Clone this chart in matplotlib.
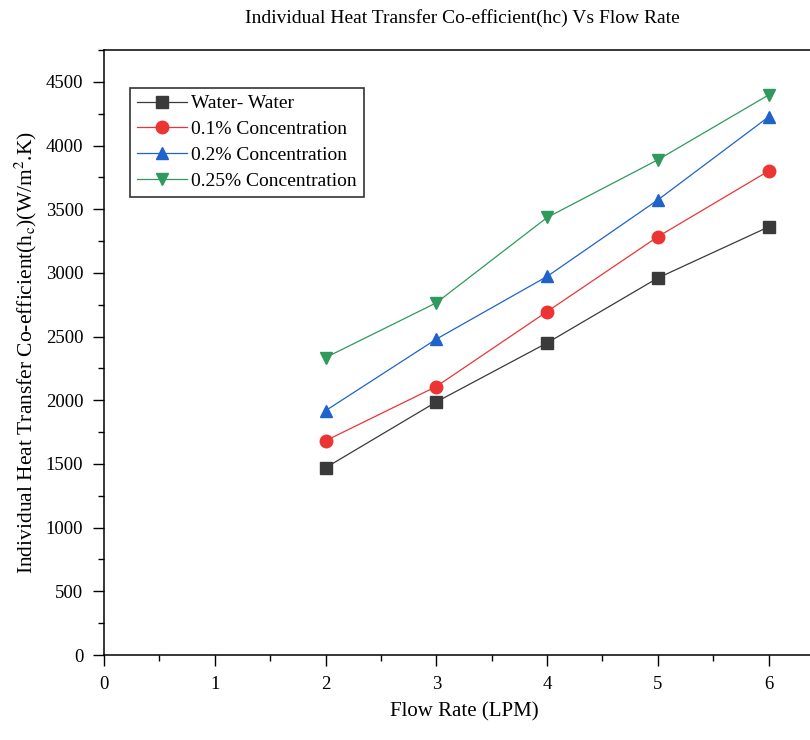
import matplotlib
matplotlib.use("Agg")
import matplotlib.pyplot as plt
from matplotlib.ticker import MultipleLocator

plt.rcParams['font.family'] = ['Liberation Serif', 'DejaVu Serif']
plt.rcParams['mathtext.fontset'] = 'stix'

# data
flow = [2, 3, 4, 5, 6]
water = [1470, 1987, 2450, 2960, 3361]
conc_01 = [1682, 2108, 2696, 3284, 3800]
conc_02 = [1918, 2480, 2972, 3573, 4225]
conc_025 = [2335, 2765, 3435, 3888, 4397]

labels = ['Water- Water', '0.1% Concentration', '0.2% Concentration', '0.25% Concentration']
colors = ['#3a3a3a', '#ec3434', '#1e63cc', '#2f9a5c']
markers = ['s', 'o', '^', 'v']

fig = plt.figure(figsize=(8.1, 7.4), dpi=100)
# axes run off the right edge like the cropped original
ax = fig.add_axes([104/810, 85/740, 720/810, 605/740])

for ys, lab, c, m in zip([water, conc_01, conc_02, conc_025], labels, colors, markers):
    ax.plot(flow, ys, color=c, lw=0.9, marker=m, markersize=9,
            markeredgecolor=c, label=lab)

ax.set_xlim(0, 6.5)
ax.set_ylim(0, 4750)
ax.xaxis.set_major_locator(MultipleLocator(1))
ax.xaxis.set_minor_locator(MultipleLocator(0.5))
ax.yaxis.set_major_locator(MultipleLocator(500))
ax.yaxis.set_minor_locator(MultipleLocator(250))
ax.tick_params(which='both', direction='out', top=False, right=False, labelsize=13.5, pad=7)
ax.tick_params(which='major', length=8, width=1)
ax.tick_params(which='minor', length=4, width=1)
ax.spines['right'].set_visible(False)
for s in ['left', 'bottom', 'top']:
    ax.spines[s].set_linewidth(1.1)

ax.set_xlabel('Flow Rate (LPM)', fontsize=15, labelpad=7)
ax.set_ylabel(r'Individual Heat Transfer Co-efficient(h$_\mathrm{c}$)(W/m$^\mathrm{2}$.K)',
              fontsize=15.5, labelpad=5)
fig.text(462/810, 1 - 18/740, 'Individual Heat Transfer Co-efficient(hc) Vs Flow Rate',
         ha='center', va='center', fontsize=14)

leg = ax.legend(loc='upper left', bbox_to_anchor=(26/720, 1 - 38/605), fontsize=14,
                frameon=True, fancybox=False, handlelength=2.6, borderpad=0.35,
                labelspacing=0.42, handletextpad=0.2, borderaxespad=0)
leg.get_frame().set_edgecolor('black')
leg.get_frame().set_linewidth(1.2)

fig.savefig('out.png', dpi=100)
